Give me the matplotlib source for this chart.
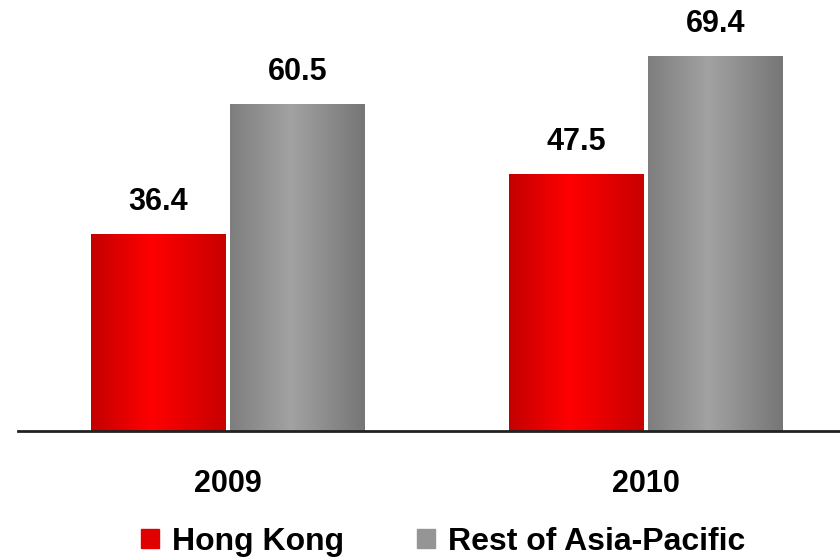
import numpy as np
import matplotlib.pyplot as plt
from matplotlib.patches import Rectangle
from matplotlib.colors import LinearSegmentedColormap

# datos
years = ['2009', '2010']
hong_kong = [36.4, 47.5]
rest_apac = [60.5, 69.4]
series_names = ['Hong Kong', 'Rest of Asia-Pacific']

plt.rcParams['font.family'] = ['Liberation Sans', 'DejaVu Sans']
plt.rcParams['font.weight'] = 'bold'

red_cm = LinearSegmentedColormap.from_list('r', [(0, '#c40000'), (0.45, '#ff0000'), (1, '#c80000')])
gray_cm = LinearSegmentedColormap.from_list('g', [(0, '#7e7e7e'), (0.45, '#a2a2a2'), (1, '#767676')])

fig = plt.figure(figsize=(8.4, 5.58), dpi=100)
ax = fig.add_axes([18/840, 1-431/558, 1-18/840, 431/558])

x = np.arange(len(years))
w = 0.322
off = 0.1663

def grad_bars(xs, vals, cmap, name):
    bars = ax.bar(xs, vals, width=w, color='none', edgecolor='none', label=name)
    grad = np.linspace(0, 1, 256).reshape(1, -1)
    for b in bars:
        x0, y0 = b.get_x(), b.get_y()
        im = ax.imshow(grad, cmap=cmap, aspect='auto', extent=[x0, x0+b.get_width(), y0, y0+b.get_height()],
                       zorder=2)
        im.set_clip_path(b)
    for xi, v in zip(xs, vals):
        ax.annotate(f'{v:.1f}', (xi, v), xytext=(0, 12), textcoords='offset points',
                    ha='center', va='bottom', fontsize=22, fontweight='bold')
    return bars

grad_bars(x - off, hong_kong, red_cm, series_names[0])
grad_bars(x + off, rest_apac, gray_cm, series_names[1])

ax.set_xlim(-0.502, 1.464)
ax.set_ylim(0, 79.7)
ax.set_xticks(x)
ax.set_xticklabels(years, fontsize=22, fontweight='bold')
ax.tick_params(axis='x', length=0, pad=27)
ax.set_yticks([])
for s in ['top', 'right', 'left']:
    ax.spines[s].set_visible(False)
ax.spines['bottom'].set_linewidth(2)
ax.spines['bottom'].set_color('#222222')

handles = [Rectangle((0, 0), 1, 1, color='#e00000'), Rectangle((0, 0), 1, 1, color='#959595')]
fig.legend(handles, series_names, loc='center', bbox_to_anchor=(443/840, 1-542/558), ncol=2,
           frameon=False, handlelength=0.55, handleheight=0.55, handletextpad=0.4,
           columnspacing=2.3, prop={'weight': 'bold', 'size': 23})

fig.savefig('out.png', dpi=100)
